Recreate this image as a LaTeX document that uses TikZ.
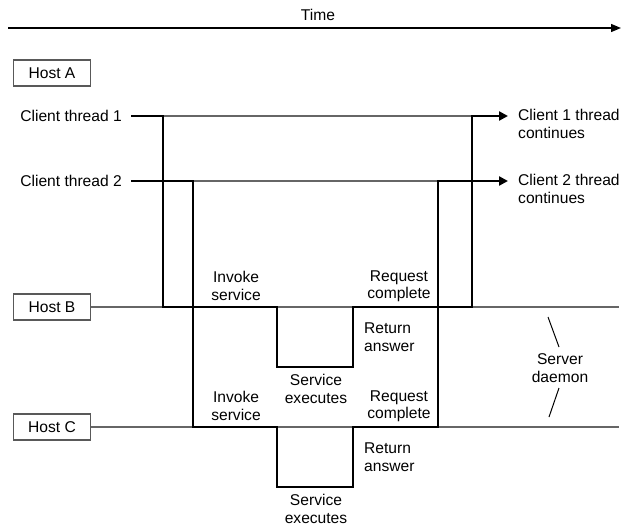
\documentclass[tikz,border=0pt]{standalone}
\usepackage{fontspec}
\setmainfont{Liberation Sans}
\usetikzlibrary{arrows.meta}

\begin{document}
\begin{tikzpicture}[x=1pt, y=-1pt, font=\fontsize{15.6}{17.5}\selectfont,
  host/.style={draw=black!65, line width=1.2pt, minimum width=77pt, minimum height=26pt, inner sep=0pt},
  note/.style={align=center, inner sep=0pt},
  wire/.style={black!60, line width=1.1pt},
  thread/.style={line width=2.4pt, line join=miter},
  threadend/.style={-{Triangle[length=9pt,width=9pt]}}]
\useasboundingbox (0,0) rectangle (623,527);
% time axis
\node[note] (time) at (318,15) {Time};
\coordinate (t0) at (8,28);
\coordinate (t9) at (621,28);
\draw[line width=1.3pt, -{Triangle[length=10pt,width=8pt]}] (t0) -- (t9);
% hosts
\node[host] (hostA) at (52,73) {Host A};
\node[host] (hostB) at (52,307) {Host B};
\node[host] (hostC) at (52,427) {Host C};
\coordinate (bEnd) at (619,307);
\coordinate (cEnd) at (619,427);
\draw[wire] (hostB) -- (bEnd);
\draw[wire] (hostC) -- (cEnd);
% client threads
\node[note, anchor=east] (ct1) at (122,116) {Client thread 1};
\node[note, anchor=east] (ct2) at (122,181) {Client thread 2};
\node[note, anchor=west, align=left] (cc1) at (518,124) {Client 1 thread\\continues};
\node[note, anchor=west, align=left] (cc2) at (518,189) {Client 2 thread\\continues};
\coordinate (s1) at (131,116);  \coordinate (c1) at (163,116);  \coordinate (e1) at (508,116);
\coordinate (s2) at (131,181);  \coordinate (c2) at (193,181);  \coordinate (e2) at (508,181);
\coordinate (b1) at (277,307);  \coordinate (b2) at (353,367);  \coordinate (b3) at (472,307);
\coordinate (h1) at (277,427);  \coordinate (h2) at (353,487);  \coordinate (h3) at (438,427);
\draw[wire] (c1) -- (b3 |- c1);
\draw[wire] (c2) -- (h3 |- c2);
\draw[thread, threadend] (s1) -- (c1) |- (b1) |- (b2) |- (b3) |- (e1);
\draw[thread, threadend] (s2) -- (c2) |- (h1) |- (h2) |- (h3) |- (e2);
% server side labels
\node[note] (invB) at (236,286) {Invoke\\service};
\node[note] (reqB) at (399,286) {Request\\complete};
\node[note, anchor=west, align=left] (retB) at (364,337) {Return\\answer};
\node[note] (exeB) at (316,389) {Service\\executes};
\node[note] (invC) at (236,406) {Invoke\\service};
\node[note] (reqC) at (399,406) {Request\\complete};
\node[note, anchor=west, align=left] (retC) at (364,457) {Return\\answer};
\node[note] (exeC) at (316,509) {Service\\executes};
\node[note] (daemon) at (560,368) {Server\\daemon};
\coordinate (d1) at (548,317);  \coordinate (d2) at (559,347);
\coordinate (d3) at (559,388);  \coordinate (d4) at (549,417);
\draw[line width=1pt] (d1) -- (d2);
\draw[line width=1pt] (d3) -- (d4);
\end{tikzpicture}
\end{document}
